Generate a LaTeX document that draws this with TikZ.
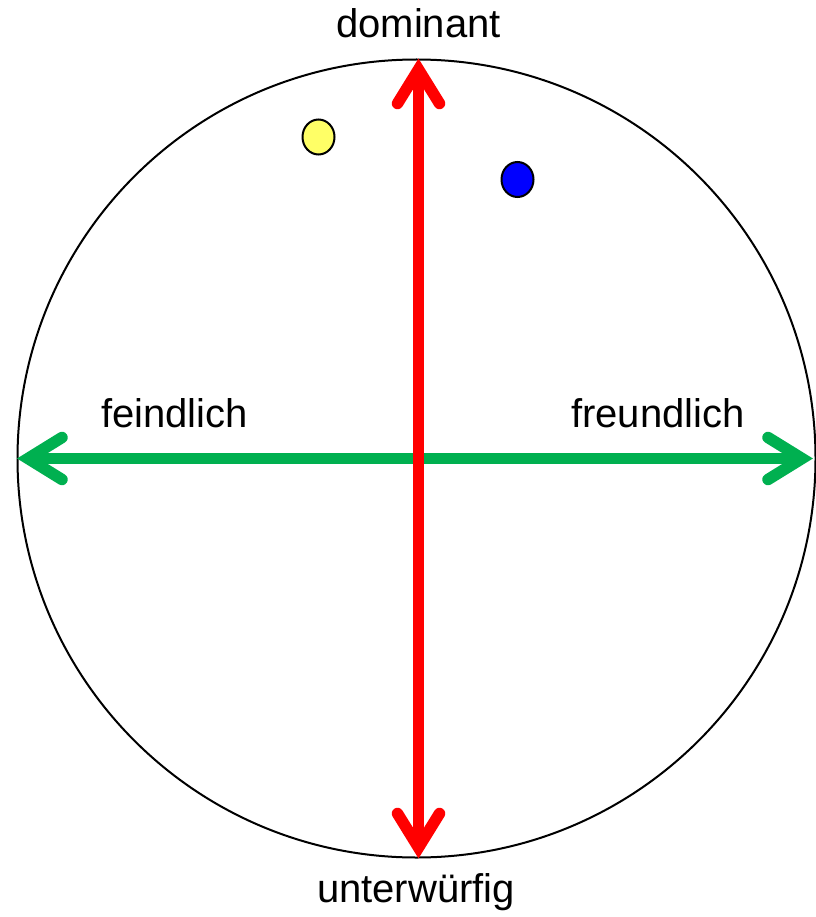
\documentclass[tikz,border=0pt]{standalone}
\usepackage{fontspec}
\setmainfont{Liberation Sans}
\usetikzlibrary{shapes.geometric}
\definecolor{axred}{HTML}{FF0000}
\definecolor{axgreen}{HTML}{00B050}
\definecolor{dotyellow}{HTML}{FFFF66}
\definecolor{dotblue}{HTML}{0000FF}
\begin{document}
\begin{tikzpicture}[x=1pt,y=-1pt,
  axis/.style={line width=11.5pt},
  barb/.style={line width=11.5pt,line cap=round,miter limit=10},
  lbl/.style={inner sep=0pt,font=\fontsize{40}{48}\selectfont},
  dot/.style={ellipse,draw=black,line width=2pt,minimum width=32pt,minimum height=35pt,inner sep=0pt}]
\useasboundingbox (0,0) rectangle (815,917);
\fill[white] (0,0) rectangle (815,917);
% circle
\coordinate (ctr) at (416.5,458.5);
\draw[line width=2pt] (ctr) circle[radius=399];
% arrow vertices
\coordinate (L) at (28,458.5);
\coordinate (R) at (802,458.5);
\coordinate (T) at (418.5,69.5);
\coordinate (B) at (418.5,847.5);
% green axis
\draw[axis,axgreen] (L) -- (R);
\draw[barb,axgreen] ([shift={(34,-21)}]L) -- (L) -- ([shift={(34,21)}]L);
\draw[barb,axgreen] ([shift={(-34,-21)}]R) -- (R) -- ([shift={(-34,21)}]R);
% red axis
\draw[axis,axred] (T) -- (B);
\draw[barb,axred] ([shift={(-21,34)}]T) -- (T) -- ([shift={(21,34)}]T);
\draw[barb,axred] ([shift={(-21,-34)}]B) -- (B) -- ([shift={(21,-34)}]B);
% dots
\node[dot,fill=dotyellow] (yel) at (318.5,137) {};
\node[dot,fill=dotblue] (blu) at (517.5,179.5) {};
% labels
\node[lbl,anchor=base] (dom) at (418.5,37.5) {dominant};
\node[lbl,anchor=base] (unt) at (416,902.5) {unterwürfig};
\node[lbl,anchor=base west] (fei) at (101,427.5) {feindlich};
\node[lbl,anchor=base west] (fre) at (571,427.5) {freundlich};
\end{tikzpicture}
\end{document}
